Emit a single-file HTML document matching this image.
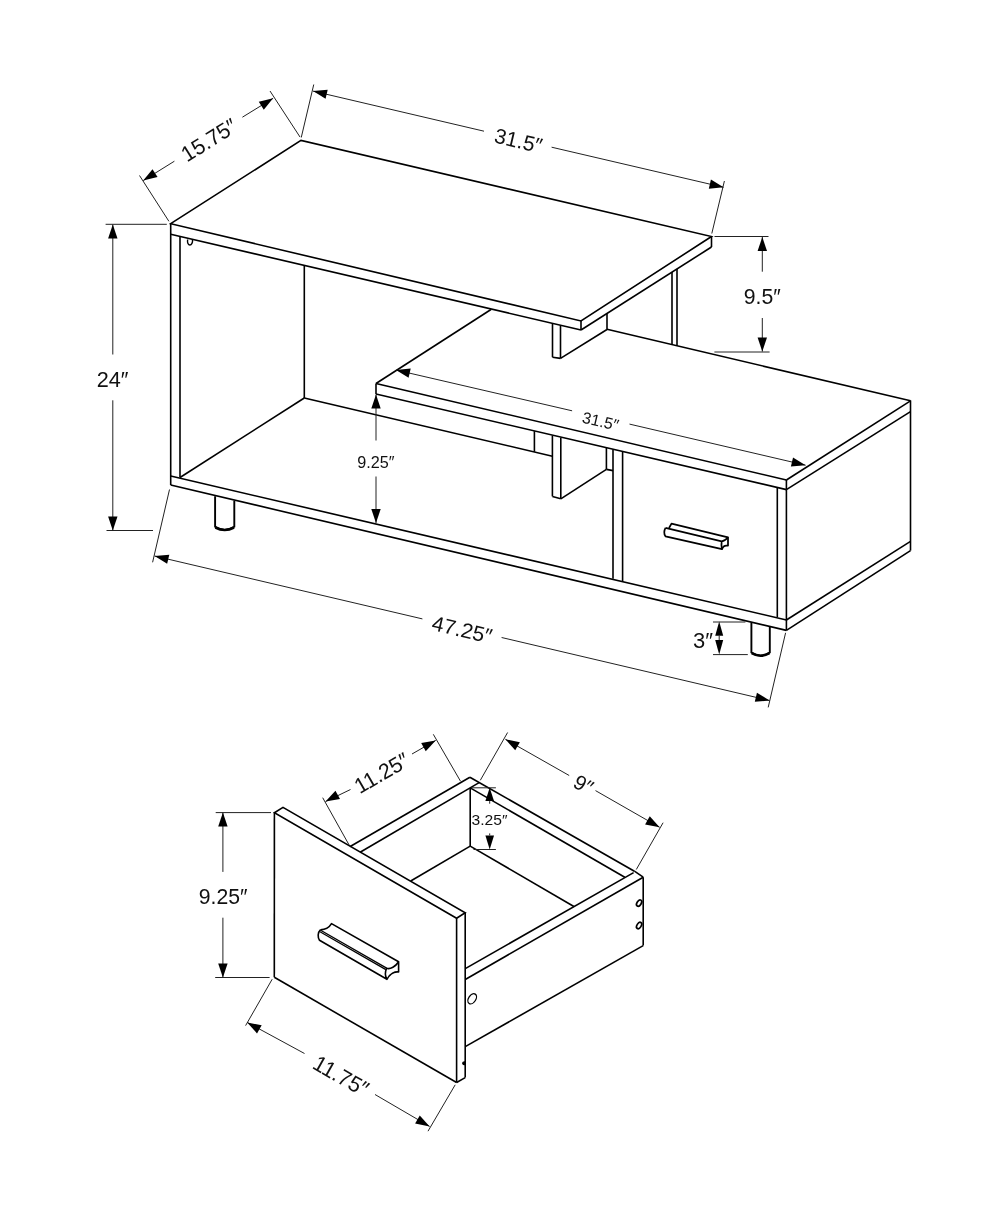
<!DOCTYPE html>
<html><head><meta charset="utf-8"><style>
html,body{margin:0;padding:0;background:#fff;}
svg{display:block;filter:grayscale(1);}
</style></head><body>
<svg width="1000" height="1214" viewBox="0 0 1000 1214">
<rect width="1000" height="1214" fill="#fff"/>
<path d="M170.70,223.70 L301.00,140.40 L711.50,236.50 L581.00,321.00Z" stroke="#000" stroke-width="1.6" fill="none" stroke-linejoin="miter" stroke-linecap="butt"/>
<path d="M170.70,234.20 L581.00,330.00" stroke="#000" stroke-width="1.6" fill="none" stroke-linejoin="miter" stroke-linecap="butt"/>
<path d="M581.00,321.00 L581.00,330.00" stroke="#000" stroke-width="1.6" fill="none" stroke-linejoin="miter" stroke-linecap="butt"/>
<path d="M581.00,330.00 L711.50,247.00" stroke="#000" stroke-width="1.6" fill="none" stroke-linejoin="miter" stroke-linecap="butt"/>
<path d="M711.50,236.50 L711.50,247.00" stroke="#000" stroke-width="1.6" fill="none" stroke-linejoin="miter" stroke-linecap="butt"/>
<path d="M170.70,223.70 L170.70,485.00" stroke="#000" stroke-width="1.6" fill="none" stroke-linejoin="miter" stroke-linecap="butt"/>
<path d="M180.00,236.40 L180.00,477.50" stroke="#000" stroke-width="1.6" fill="none" stroke-linejoin="miter" stroke-linecap="butt"/>
<path d="M187.6,239.5 C187.2,243 188.2,245 189.9,245 C191.6,245 192.8,242.5 192.5,239.9" stroke="#000" stroke-width="1.4" fill="none"/>
<path d="M304.30,265.30 L304.30,398.00" stroke="#000" stroke-width="1.6" fill="none" stroke-linejoin="miter" stroke-linecap="butt"/>
<path d="M170.70,476.00 L786.40,620.00" stroke="#000" stroke-width="1.6" fill="none" stroke-linejoin="miter" stroke-linecap="butt"/>
<path d="M170.70,485.00 L786.40,630.40" stroke="#000" stroke-width="1.6" fill="none" stroke-linejoin="miter" stroke-linecap="butt"/>
<path d="M180.00,477.50 L304.30,398.00" stroke="#000" stroke-width="1.6" fill="none" stroke-linejoin="miter" stroke-linecap="butt"/>
<path d="M304.30,398.00 L552.40,456.20" stroke="#000" stroke-width="1.6" fill="none" stroke-linejoin="miter" stroke-linecap="butt"/>
<path d="M376.00,383.50 L786.40,480.00" stroke="#000" stroke-width="1.6" fill="none" stroke-linejoin="miter" stroke-linecap="butt"/>
<path d="M376.00,383.50 L491.00,309.50" stroke="#000" stroke-width="1.6" fill="none" stroke-linejoin="miter" stroke-linecap="butt"/>
<path d="M607.00,329.30 L910.50,400.80" stroke="#000" stroke-width="1.6" fill="none" stroke-linejoin="miter" stroke-linecap="butt"/>
<path d="M376.00,383.50 L376.00,394.00" stroke="#000" stroke-width="1.6" fill="none" stroke-linejoin="miter" stroke-linecap="butt"/>
<path d="M376.00,394.00 L786.40,489.60" stroke="#000" stroke-width="1.6" fill="none" stroke-linejoin="miter" stroke-linecap="butt"/>
<path d="M786.40,480.00 L786.40,489.60" stroke="#000" stroke-width="1.6" fill="none" stroke-linejoin="miter" stroke-linecap="butt"/>
<path d="M786.40,480.00 L910.50,400.80" stroke="#000" stroke-width="1.6" fill="none" stroke-linejoin="miter" stroke-linecap="butt"/>
<path d="M786.40,489.60 L910.50,411.60" stroke="#000" stroke-width="1.6" fill="none" stroke-linejoin="miter" stroke-linecap="butt"/>
<path d="M552.50,323.50 L552.50,357.20" stroke="#000" stroke-width="1.6" fill="none" stroke-linejoin="miter" stroke-linecap="butt"/>
<path d="M560.50,325.40 L560.50,358.40" stroke="#000" stroke-width="1.6" fill="none" stroke-linejoin="miter" stroke-linecap="butt"/>
<path d="M552.50,357.20 L560.50,358.40" stroke="#000" stroke-width="1.6" fill="none" stroke-linejoin="miter" stroke-linecap="butt"/>
<path d="M560.50,358.40 L607.00,329.50" stroke="#000" stroke-width="1.6" fill="none" stroke-linejoin="miter" stroke-linecap="butt"/>
<path d="M607.00,313.50 L607.00,329.50" stroke="#000" stroke-width="1.6" fill="none" stroke-linejoin="miter" stroke-linecap="butt"/>
<path d="M672.00,272.10 L672.00,344.50" stroke="#000" stroke-width="1.6" fill="none" stroke-linejoin="miter" stroke-linecap="butt"/>
<path d="M677.00,269.00 L677.00,345.70" stroke="#000" stroke-width="1.6" fill="none" stroke-linejoin="miter" stroke-linecap="butt"/>
<path d="M910.50,400.40 L910.50,550.60" stroke="#000" stroke-width="1.6" fill="none" stroke-linejoin="miter" stroke-linecap="butt"/>
<path d="M910.50,541.40 L786.40,620.00" stroke="#000" stroke-width="1.6" fill="none" stroke-linejoin="miter" stroke-linecap="butt"/>
<path d="M910.50,550.60 L786.40,630.40" stroke="#000" stroke-width="1.6" fill="none" stroke-linejoin="miter" stroke-linecap="butt"/>
<path d="M786.40,489.60 L786.40,630.40" stroke="#000" stroke-width="1.6" fill="none" stroke-linejoin="miter" stroke-linecap="butt"/>
<path d="M777.30,488.00 L777.30,617.20" stroke="#000" stroke-width="1.6" fill="none" stroke-linejoin="miter" stroke-linecap="butt"/>
<path d="M622.60,452.00 L622.60,581.00" stroke="#000" stroke-width="1.6" fill="none" stroke-linejoin="miter" stroke-linecap="butt"/>
<path d="M613.00,449.60 L613.00,578.80" stroke="#000" stroke-width="1.6" fill="none" stroke-linejoin="miter" stroke-linecap="butt"/>
<path d="M534.40,431.10 L534.40,451.80" stroke="#000" stroke-width="1.6" fill="none" stroke-linejoin="miter" stroke-linecap="butt"/>
<path d="M552.40,435.50 L552.40,496.40" stroke="#000" stroke-width="1.6" fill="none" stroke-linejoin="miter" stroke-linecap="butt"/>
<path d="M560.80,437.50 L560.80,498.80" stroke="#000" stroke-width="1.6" fill="none" stroke-linejoin="miter" stroke-linecap="butt"/>
<path d="M552.40,496.40 L560.80,498.80" stroke="#000" stroke-width="1.6" fill="none" stroke-linejoin="miter" stroke-linecap="butt"/>
<path d="M560.80,498.80 L606.40,469.40" stroke="#000" stroke-width="1.6" fill="none" stroke-linejoin="miter" stroke-linecap="butt"/>
<path d="M606.40,447.60 L606.40,469.40" stroke="#000" stroke-width="1.6" fill="none" stroke-linejoin="miter" stroke-linecap="butt"/>
<path d="M606.40,469.40 L613.00,470.60" stroke="#000" stroke-width="1.6" fill="none" stroke-linejoin="miter" stroke-linecap="butt"/>
<path d="M665.5,527.8 C664,530.5 664,534 665.5,536.4 L722,549.2 C722.8,546.6 724.5,545 728,545.7 L728,537.3 L671.5,523.6 L669,528" stroke="#000" stroke-width="1.75" fill="none" stroke-linejoin="round"/>
<path d="M665.5,527.9 L721.7,541.4 C723.5,541.2 726,540 728,537.3 M721.7,541.4 C721.2,544 721.4,546.5 722,549.2" stroke="#000" stroke-width="1.75" fill="none" stroke-linejoin="round"/>
<path d="M215.1,496.2 L215.1,526.8 Q224.7,533 234.3,526.8 L234.3,500.7" stroke="#000" stroke-width="1.9" fill="none"/>
<path d="M215.4,527.5 Q224.7,532.5 234,527.5" stroke="#000" stroke-width="2.6" fill="none"/>
<path d="M751.4,622.5 L751.4,652.5 Q760.6,658.8 769.8,652.5 L769.8,626.5" stroke="#000" stroke-width="1.9" fill="none"/>
<path d="M751.7,653.2 Q760.6,658.3 769.5,653.2" stroke="#000" stroke-width="2.6" fill="none"/>
<path d="M168.90,221.30 L139.50,175.50" stroke="#222" stroke-width="1.0" fill="none" stroke-linejoin="miter" stroke-linecap="butt"/>
<path d="M300.00,137.00 L270.00,91.00" stroke="#222" stroke-width="1.0" fill="none" stroke-linejoin="miter" stroke-linecap="butt"/>
<path d="M143.20,180.60 L174.40,161.20" stroke="#222" stroke-width="1.0" fill="none" stroke-linejoin="miter" stroke-linecap="butt"/>
<path d="M242.40,117.20 L273.10,98.30" stroke="#222" stroke-width="1.0" fill="none" stroke-linejoin="miter" stroke-linecap="butt"/>
<path d="M143.20,180.60 L152.51,169.14 L157.54,177.08Z" fill="#000"/>
<path d="M273.10,98.30 L263.79,109.76 L258.76,101.82Z" fill="#000"/>
<text transform="translate(208.88,139.95) rotate(-32.00)" x="0" y="7.63" text-anchor="middle" font-family="Liberation Sans" font-size="21.79" textLength="61.01" lengthAdjust="spacingAndGlyphs" fill="#111">15.75″</text>
<path d="M301.25,137.50 L313.75,84.50" stroke="#222" stroke-width="1.0" fill="none" stroke-linejoin="miter" stroke-linecap="butt"/>
<path d="M711.80,233.50 L724.40,181.00" stroke="#222" stroke-width="1.0" fill="none" stroke-linejoin="miter" stroke-linecap="butt"/>
<path d="M313.00,91.10 L484.00,131.20" stroke="#222" stroke-width="1.0" fill="none" stroke-linejoin="miter" stroke-linecap="butt"/>
<path d="M551.60,147.20 L723.50,187.30" stroke="#222" stroke-width="1.0" fill="none" stroke-linejoin="miter" stroke-linecap="butt"/>
<path d="M313.00,91.10 L327.70,89.72 L325.56,98.87Z" fill="#000"/>
<path d="M723.50,187.30 L708.80,188.68 L710.94,179.53Z" fill="#000"/>
<text transform="translate(518.41,140.57) rotate(13.20)" x="0" y="7.40" text-anchor="middle" font-family="Liberation Sans" font-size="21.15" textLength="48.3" lengthAdjust="spacingAndGlyphs" fill="#111">31.5″</text>
<path d="M105.60,224.30 L166.80,224.30" stroke="#222" stroke-width="1.0" fill="none" stroke-linejoin="miter" stroke-linecap="butt"/>
<path d="M106.50,530.50 L153.00,530.50" stroke="#222" stroke-width="1.0" fill="none" stroke-linejoin="miter" stroke-linecap="butt"/>
<path d="M112.80,224.60 L112.80,354.50" stroke="#222" stroke-width="1.0" fill="none" stroke-linejoin="miter" stroke-linecap="butt"/>
<path d="M112.80,400.30 L112.80,530.50" stroke="#222" stroke-width="1.0" fill="none" stroke-linejoin="miter" stroke-linecap="butt"/>
<path d="M112.80,224.60 L117.50,238.60 L108.10,238.60Z" fill="#000"/>
<path d="M112.80,530.50 L108.10,516.50 L117.50,516.50Z" fill="#000"/>
<text x="96.75" y="387.00" font-family="Liberation Sans" font-size="22.44" textLength="31.75" lengthAdjust="spacingAndGlyphs" fill="#111">24″</text>
<path d="M714.50,236.50 L768.50,236.50" stroke="#222" stroke-width="1.0" fill="none" stroke-linejoin="miter" stroke-linecap="butt"/>
<path d="M714.40,352.00 L769.60,352.00" stroke="#222" stroke-width="1.0" fill="none" stroke-linejoin="miter" stroke-linecap="butt"/>
<path d="M762.30,237.00 L762.30,271.70" stroke="#222" stroke-width="1.0" fill="none" stroke-linejoin="miter" stroke-linecap="butt"/>
<path d="M762.30,318.00 L762.30,351.50" stroke="#222" stroke-width="1.0" fill="none" stroke-linejoin="miter" stroke-linecap="butt"/>
<path d="M762.30,237.00 L767.00,251.00 L757.60,251.00Z" fill="#000"/>
<path d="M762.30,351.50 L757.60,337.50 L767.00,337.50Z" fill="#000"/>
<text x="743.75" y="303.75" font-family="Liberation Sans" font-size="21.73" textLength="37.00" lengthAdjust="spacingAndGlyphs" fill="#111">9.5″</text>
<path d="M396.00,370.00 L572.10,410.80" stroke="#222" stroke-width="1.0" fill="none" stroke-linejoin="miter" stroke-linecap="butt"/>
<path d="M629.50,424.10 L805.60,465.20" stroke="#222" stroke-width="1.0" fill="none" stroke-linejoin="miter" stroke-linecap="butt"/>
<path d="M396.00,370.00 L410.70,368.59 L408.57,377.75Z" fill="#000"/>
<path d="M805.60,465.20 L790.90,466.61 L793.03,457.45Z" fill="#000"/>
<text transform="translate(600.60,421.07) rotate(13.08)" x="0" y="5.61" text-anchor="middle" font-family="Liberation Sans" font-size="16.03" textLength="36.89" lengthAdjust="spacingAndGlyphs" fill="#111">31.5″</text>
<path d="M376.00,394.50 L376.00,440.50" stroke="#222" stroke-width="1.0" fill="none" stroke-linejoin="miter" stroke-linecap="butt"/>
<path d="M376.00,476.50 L376.00,523.00" stroke="#222" stroke-width="1.0" fill="none" stroke-linejoin="miter" stroke-linecap="butt"/>
<path d="M376.00,394.50 L380.70,408.50 L371.30,408.50Z" fill="#000"/>
<path d="M376.00,523.00 L371.30,509.00 L380.70,509.00Z" fill="#000"/>
<text x="357.25" y="468.00" font-family="Liberation Sans" font-size="16.94" textLength="37.25" lengthAdjust="spacingAndGlyphs" fill="#111">9.25″</text>
<path d="M169.50,489.50 L152.60,562.30" stroke="#222" stroke-width="1.0" fill="none" stroke-linejoin="miter" stroke-linecap="butt"/>
<path d="M785.60,632.80 L768.20,707.40" stroke="#222" stroke-width="1.0" fill="none" stroke-linejoin="miter" stroke-linecap="butt"/>
<path d="M154.60,556.00 L422.40,618.90" stroke="#222" stroke-width="1.0" fill="none" stroke-linejoin="miter" stroke-linecap="butt"/>
<path d="M501.60,637.50 L769.50,700.50" stroke="#222" stroke-width="1.0" fill="none" stroke-linejoin="miter" stroke-linecap="butt"/>
<path d="M154.60,556.00 L169.30,554.63 L167.15,563.78Z" fill="#000"/>
<path d="M769.50,700.50 L754.80,701.87 L756.95,692.72Z" fill="#000"/>
<text transform="translate(462.17,629.57) rotate(13.08)" x="0" y="7.34" text-anchor="middle" font-family="Liberation Sans" font-size="20.98" textLength="60.88" lengthAdjust="spacingAndGlyphs" fill="#111">47.25″</text>
<path d="M713.00,622.00 L745.40,622.00" stroke="#222" stroke-width="1.0" fill="none" stroke-linejoin="miter" stroke-linecap="butt"/>
<path d="M713.00,654.60 L747.80,654.60" stroke="#222" stroke-width="1.0" fill="none" stroke-linejoin="miter" stroke-linecap="butt"/>
<path d="M719.20,635.80 L719.20,640.00" stroke="#222" stroke-width="1.0" fill="none" stroke-linejoin="miter" stroke-linecap="butt"/>
<path d="M719.20,621.60 L723.20,635.80 L715.20,635.80Z" fill="#000"/>
<path d="M719.20,654.40 L715.20,640.00 L723.20,640.00Z" fill="#000"/>
<text x="693.00" y="647.50" font-family="Liberation Sans" font-size="22.1" textLength="20.00" lengthAdjust="spacingAndGlyphs" fill="#111">3″</text>
<path d="M274.40,812.80 L283.00,807.40 L465.20,912.80 L456.60,918.20Z" stroke="#000" stroke-width="1.6" fill="none" stroke-linejoin="miter" stroke-linecap="butt"/>
<path d="M274.40,812.80 L274.30,977.30" stroke="#000" stroke-width="1.6" fill="none" stroke-linejoin="miter" stroke-linecap="butt"/>
<path d="M274.30,977.30 L456.60,1082.50" stroke="#000" stroke-width="1.6" fill="none" stroke-linejoin="miter" stroke-linecap="butt"/>
<path d="M456.60,918.20 L456.60,1082.50" stroke="#000" stroke-width="1.6" fill="none" stroke-linejoin="miter" stroke-linecap="butt"/>
<path d="M465.20,912.80 L465.20,1077.60" stroke="#000" stroke-width="1.6" fill="none" stroke-linejoin="miter" stroke-linecap="butt"/>
<path d="M456.60,1082.50 L465.20,1077.60" stroke="#000" stroke-width="1.6" fill="none" stroke-linejoin="miter" stroke-linecap="butt"/>
<path d="M350.20,846.50 L469.90,777.20" stroke="#000" stroke-width="1.6" fill="none" stroke-linejoin="miter" stroke-linecap="butt"/>
<path d="M360.10,852.20 L479.10,782.60" stroke="#000" stroke-width="1.6" fill="none" stroke-linejoin="miter" stroke-linecap="butt"/>
<path d="M469.90,777.20 L634.40,871.20" stroke="#000" stroke-width="1.6" fill="none" stroke-linejoin="miter" stroke-linecap="butt"/>
<path d="M470.20,787.90 L624.80,877.20" stroke="#000" stroke-width="1.6" fill="none" stroke-linejoin="miter" stroke-linecap="butt"/>
<path d="M634.40,871.20 L643.20,877.20" stroke="#000" stroke-width="1.6" fill="none" stroke-linejoin="miter" stroke-linecap="butt"/>
<path d="M643.20,877.20 L465.70,979.20" stroke="#000" stroke-width="1.6" fill="none" stroke-linejoin="miter" stroke-linecap="butt"/>
<path d="M633.60,872.60 L465.70,968.40" stroke="#000" stroke-width="1.6" fill="none" stroke-linejoin="miter" stroke-linecap="butt"/>
<path d="M643.20,877.20 L643.20,945.60" stroke="#000" stroke-width="1.6" fill="none" stroke-linejoin="miter" stroke-linecap="butt"/>
<path d="M643.20,945.60 L465.70,1046.40" stroke="#000" stroke-width="1.6" fill="none" stroke-linejoin="miter" stroke-linecap="butt"/>
<path d="M470.20,787.90 L470.20,846.10" stroke="#000" stroke-width="1.6" fill="none" stroke-linejoin="miter" stroke-linecap="butt"/>
<path d="M470.20,846.10 L573.90,906.50" stroke="#000" stroke-width="1.6" fill="none" stroke-linejoin="miter" stroke-linecap="butt"/>
<path d="M470.20,846.10 L410.70,881.00" stroke="#000" stroke-width="1.6" fill="none" stroke-linejoin="miter" stroke-linecap="butt"/>
<ellipse cx="639.1" cy="903.1" rx="2.1" ry="3.5" transform="rotate(32 639.1 903.1)" stroke="#000" stroke-width="1.7" fill="none"/>
<ellipse cx="639.1" cy="925.5" rx="2.1" ry="3.5" transform="rotate(32 639.1 925.5)" stroke="#000" stroke-width="1.7" fill="none"/>
<ellipse cx="472.2" cy="998.8" rx="3.6" ry="5.6" transform="rotate(33 472.2 998.8)" stroke="#000" stroke-width="1.3" fill="none"/>
<path d="M465.2,1061.8 Q462.4,1061.6 462.8,1063.8 Q463.4,1065 465.2,1064.6" stroke="#000" stroke-width="1.3" fill="#000"/>
<path d="M320.4,929.9 C317.6,932.5 317.6,937.5 319.5,940.2 L386.9,979.3 M320.4,929.9 C325,929.6 329.5,927 331.5,923.6 L398.6,961.7 L398.6,972 C395,971.5 390,973.5 386.9,979.3 C385,976 385.2,971.5 386.6,968.3 C390.5,969.5 395.5,966.5 398.6,961.7" stroke="#000" stroke-width="1.6" fill="none" stroke-linejoin="round"/>
<path d="M320.60,930.20 L386.60,968.10" stroke="#000" stroke-width="1.3" fill="none" stroke-linejoin="miter" stroke-linecap="butt"/>
<path d="M320.00,931.70 L385.90,969.60" stroke="#000" stroke-width="1.3" fill="none" stroke-linejoin="miter" stroke-linecap="butt"/>
<path d="M349.10,845.00 L322.70,797.70" stroke="#222" stroke-width="1.0" fill="none" stroke-linejoin="miter" stroke-linecap="butt"/>
<path d="M460.50,781.20 L433.30,734.30" stroke="#222" stroke-width="1.0" fill="none" stroke-linejoin="miter" stroke-linecap="butt"/>
<path d="M325.50,801.60 L350.50,789.50" stroke="#222" stroke-width="1.0" fill="none" stroke-linejoin="miter" stroke-linecap="butt"/>
<path d="M412.00,754.00 L435.70,740.40" stroke="#222" stroke-width="1.0" fill="none" stroke-linejoin="miter" stroke-linecap="butt"/>
<path d="M325.50,801.60 L335.46,790.69 L340.02,798.91Z" fill="#000"/>
<path d="M435.70,740.40 L425.74,751.31 L421.18,743.09Z" fill="#000"/>
<text transform="translate(381.65,772.90) rotate(-30.00)" x="0" y="7.61" text-anchor="middle" font-family="Liberation Sans" font-size="21.73" textLength="59.15" lengthAdjust="spacingAndGlyphs" fill="#111">11.25″</text>
<path d="M507.60,732.50 L480.30,780.30" stroke="#222" stroke-width="1.0" fill="none" stroke-linejoin="miter" stroke-linecap="butt"/>
<path d="M663.10,822.70 L636.30,869.50" stroke="#222" stroke-width="1.0" fill="none" stroke-linejoin="miter" stroke-linecap="butt"/>
<path d="M505.40,739.30 L569.20,775.50" stroke="#222" stroke-width="1.0" fill="none" stroke-linejoin="miter" stroke-linecap="butt"/>
<path d="M595.50,790.60 L659.60,827.30" stroke="#222" stroke-width="1.0" fill="none" stroke-linejoin="miter" stroke-linecap="butt"/>
<path d="M505.40,739.30 L519.89,742.16 L515.23,750.32Z" fill="#000"/>
<path d="M659.60,827.30 L645.11,824.44 L649.77,816.28Z" fill="#000"/>
<text transform="translate(583.41,784.51) rotate(29.60)" x="0" y="7.24" text-anchor="middle" font-family="Liberation Sans" font-size="20.68" textLength="18.72" lengthAdjust="spacingAndGlyphs" fill="#111">9″</text>
<path d="M471.90,787.80 L495.90,787.80" stroke="#222" stroke-width="1.0" fill="none" stroke-linejoin="miter" stroke-linecap="butt"/>
<path d="M473.50,849.50 L495.90,849.50" stroke="#222" stroke-width="1.0" fill="none" stroke-linejoin="miter" stroke-linecap="butt"/>
<path d="M489.70,801.10 L489.70,803.70" stroke="#222" stroke-width="1.0" fill="none" stroke-linejoin="miter" stroke-linecap="butt"/>
<path d="M489.70,833.40 L489.70,835.40" stroke="#222" stroke-width="1.0" fill="none" stroke-linejoin="miter" stroke-linecap="butt"/>
<path d="M489.70,787.80 L494.00,801.10 L485.40,801.10Z" fill="#000"/>
<path d="M489.70,849.50 L485.40,835.40 L494.00,835.40Z" fill="#000"/>
<text x="471.50" y="825.25" font-family="Liberation Sans" font-size="15.49" textLength="36.00" lengthAdjust="spacingAndGlyphs" fill="#111">3.25″</text>
<path d="M215.70,812.60 L271.00,812.60" stroke="#222" stroke-width="1.0" fill="none" stroke-linejoin="miter" stroke-linecap="butt"/>
<path d="M215.20,977.50 L269.60,977.50" stroke="#222" stroke-width="1.0" fill="none" stroke-linejoin="miter" stroke-linecap="butt"/>
<path d="M222.90,812.60 L222.90,871.90" stroke="#222" stroke-width="1.0" fill="none" stroke-linejoin="miter" stroke-linecap="butt"/>
<path d="M222.90,917.70 L222.90,977.50" stroke="#222" stroke-width="1.0" fill="none" stroke-linejoin="miter" stroke-linecap="butt"/>
<path d="M222.90,812.60 L227.60,826.60 L218.20,826.60Z" fill="#000"/>
<path d="M222.90,977.50 L218.20,963.50 L227.60,963.50Z" fill="#000"/>
<text x="198.75" y="903.75" font-family="Liberation Sans" font-size="21.73" textLength="48.75" lengthAdjust="spacingAndGlyphs" fill="#111">9.25″</text>
<path d="M272.20,979.20 L245.60,1025.60" stroke="#222" stroke-width="1.0" fill="none" stroke-linejoin="miter" stroke-linecap="butt"/>
<path d="M455.20,1084.80 L428.00,1131.20" stroke="#222" stroke-width="1.0" fill="none" stroke-linejoin="miter" stroke-linecap="butt"/>
<path d="M247.20,1022.40 L304.50,1053.50" stroke="#222" stroke-width="1.0" fill="none" stroke-linejoin="miter" stroke-linecap="butt"/>
<path d="M375.00,1094.50 L429.60,1126.40" stroke="#222" stroke-width="1.0" fill="none" stroke-linejoin="miter" stroke-linecap="butt"/>
<path d="M247.20,1022.40 L261.69,1025.25 L257.03,1033.42Z" fill="#000"/>
<path d="M429.60,1126.40 L415.11,1123.55 L419.77,1115.38Z" fill="#000"/>
<text transform="translate(341.05,1075.81) rotate(29.70)" x="0" y="7.77" text-anchor="middle" font-family="Liberation Sans" font-size="22.2" textLength="59.79" lengthAdjust="spacingAndGlyphs" fill="#111">11.75″</text>
</svg></body></html>
